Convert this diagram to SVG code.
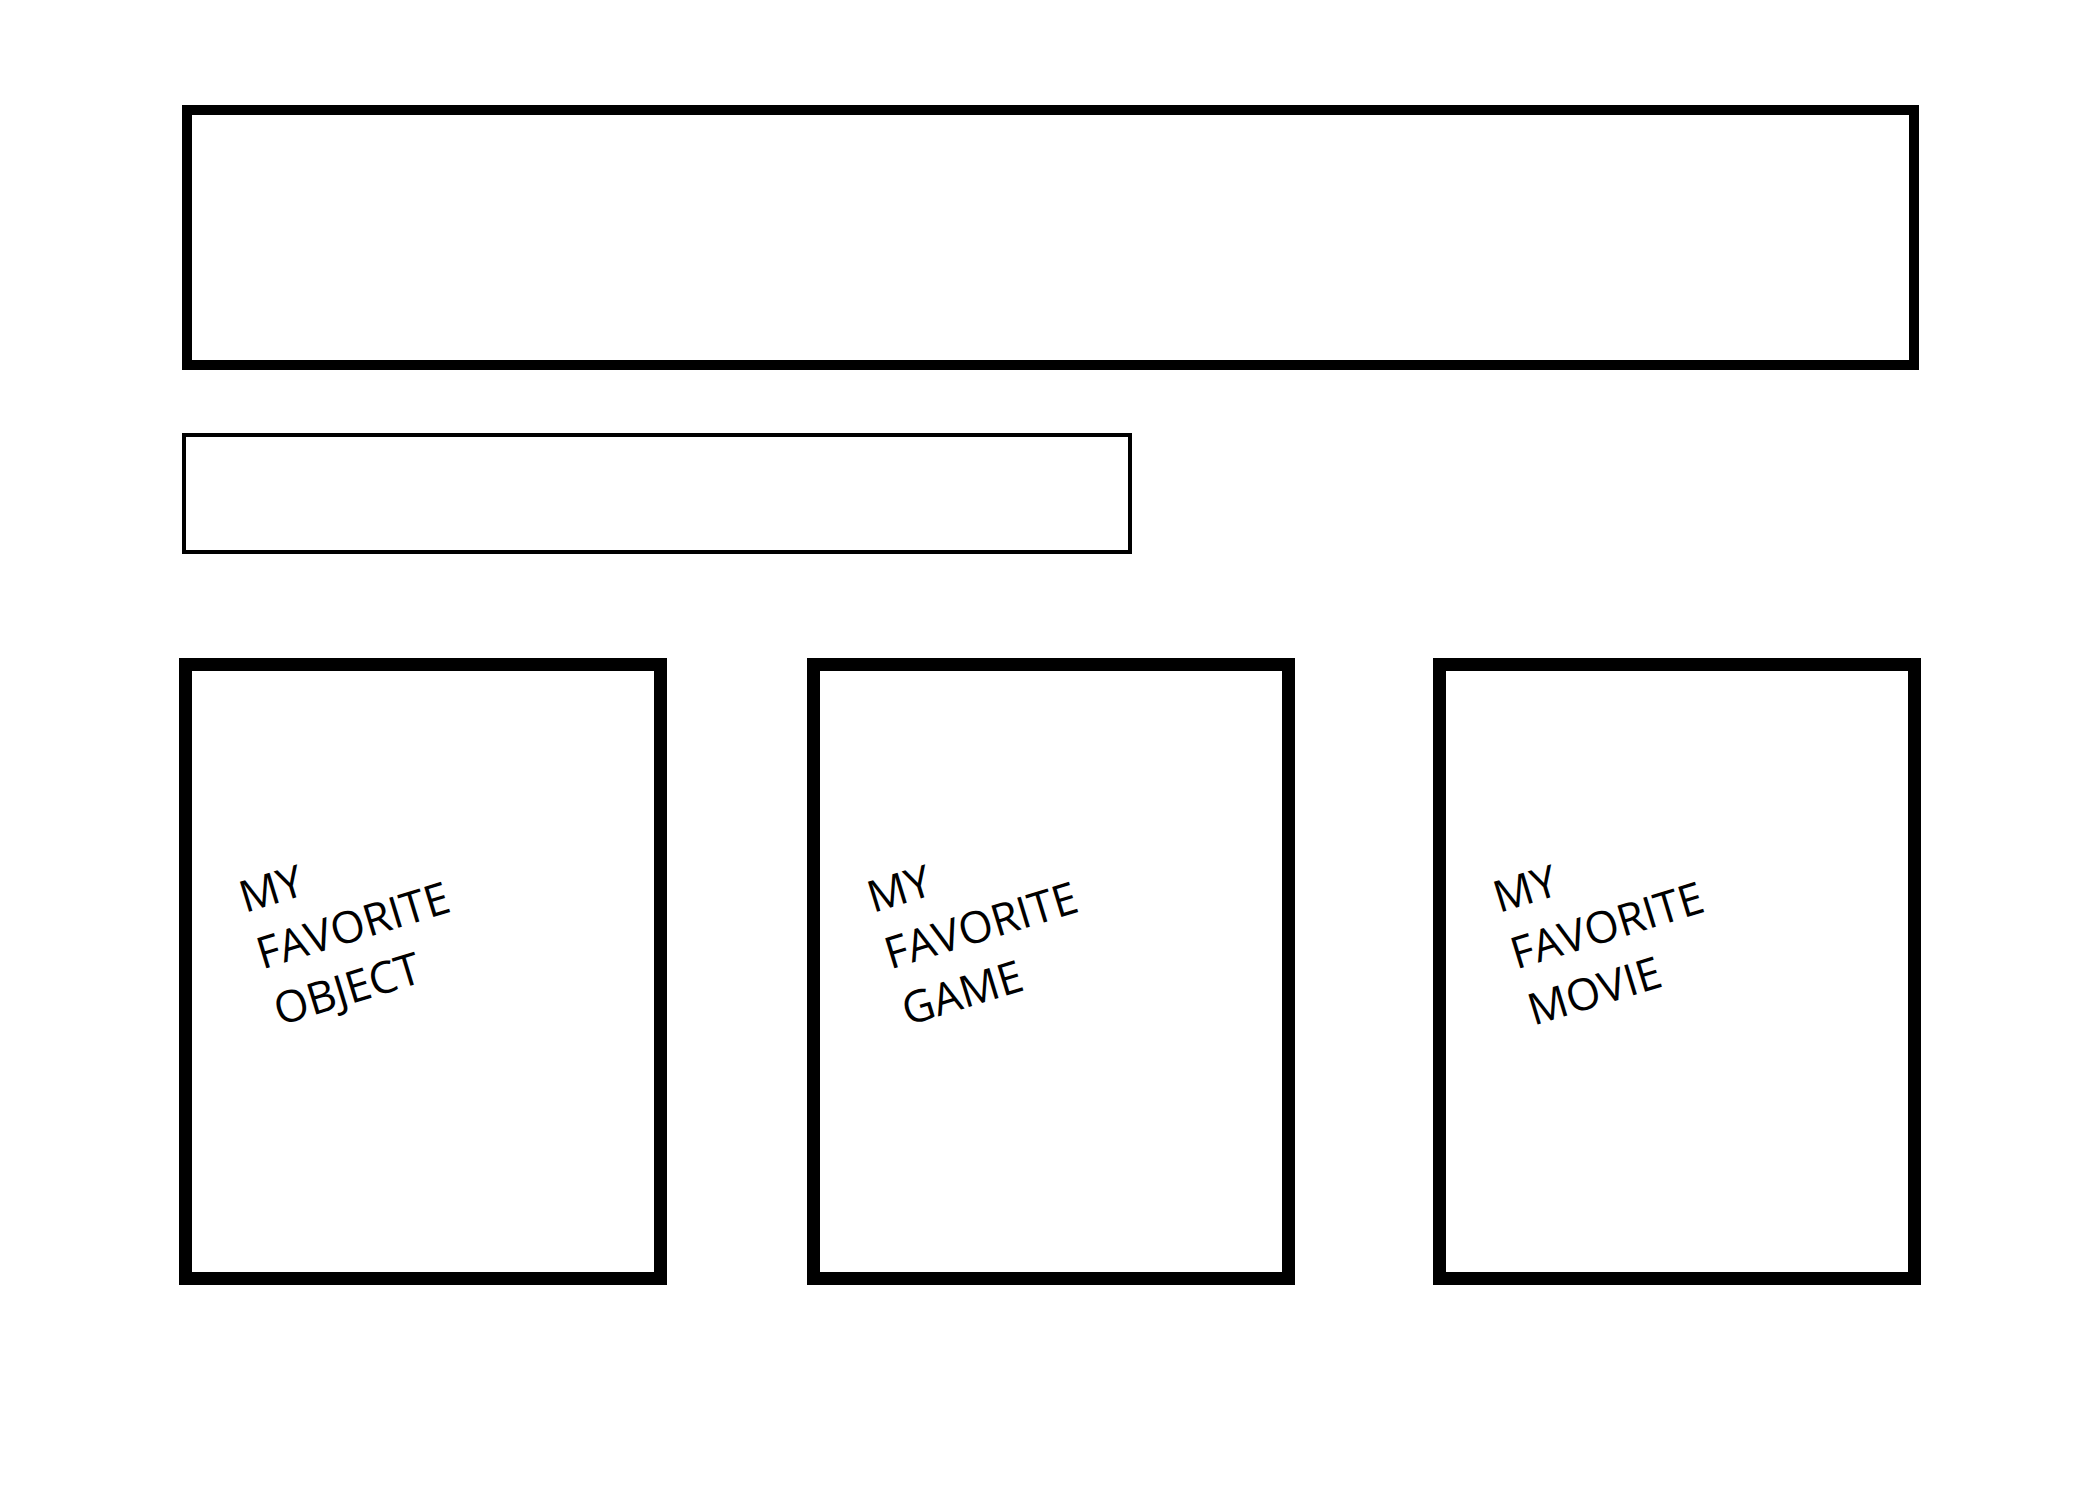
<svg xmlns="http://www.w3.org/2000/svg" width="2100" height="1500" viewBox="0 0 2100 1500">
<style>
.box{fill:#ffffff;stroke:#000000}
.big{stroke-width:10}
.thin{stroke-width:4}
.card{stroke-width:13}
.lbl{font-family:"Open Sans","Noto Sans","Liberation Sans",sans-serif;font-size:44px;fill:#000000}
</style>
<rect x="0" y="0" width="2100" height="1500" fill="#ffffff"/>
<g id="title-box"><rect class="box big" x="187" y="110" width="1727" height="255"/></g>
<g id="name-box"><rect class="box thin" x="184" y="435" width="946" height="117"/></g>
<g id="object-card">
<rect class="box card" x="185.5" y="664.5" width="475" height="614"/>
<text class="lbl" transform="translate(245,913) rotate(-17)"><tspan x="0" y="0">MY</tspan><tspan x="0" dy="59">FAVORITE</tspan><tspan x="0" dy="59">OBJECT</tspan></text>
</g>
<g id="game-card">
<rect class="box card" x="813.5" y="664.5" width="475" height="614"/>
<text class="lbl" transform="translate(873,913) rotate(-17)"><tspan x="0" y="0">MY</tspan><tspan x="0" dy="59">FAVORITE</tspan><tspan x="0" dy="59">GAME</tspan></text>
</g>
<g id="movie-card">
<rect class="box card" x="1439.5" y="664.5" width="475" height="614"/>
<text class="lbl" transform="translate(1499,913) rotate(-17)"><tspan x="0" y="0">MY</tspan><tspan x="0" dy="59">FAVORITE</tspan><tspan x="0" dy="59">MOVIE</tspan></text>
</g>
<g id="connectors"/>
</svg>
